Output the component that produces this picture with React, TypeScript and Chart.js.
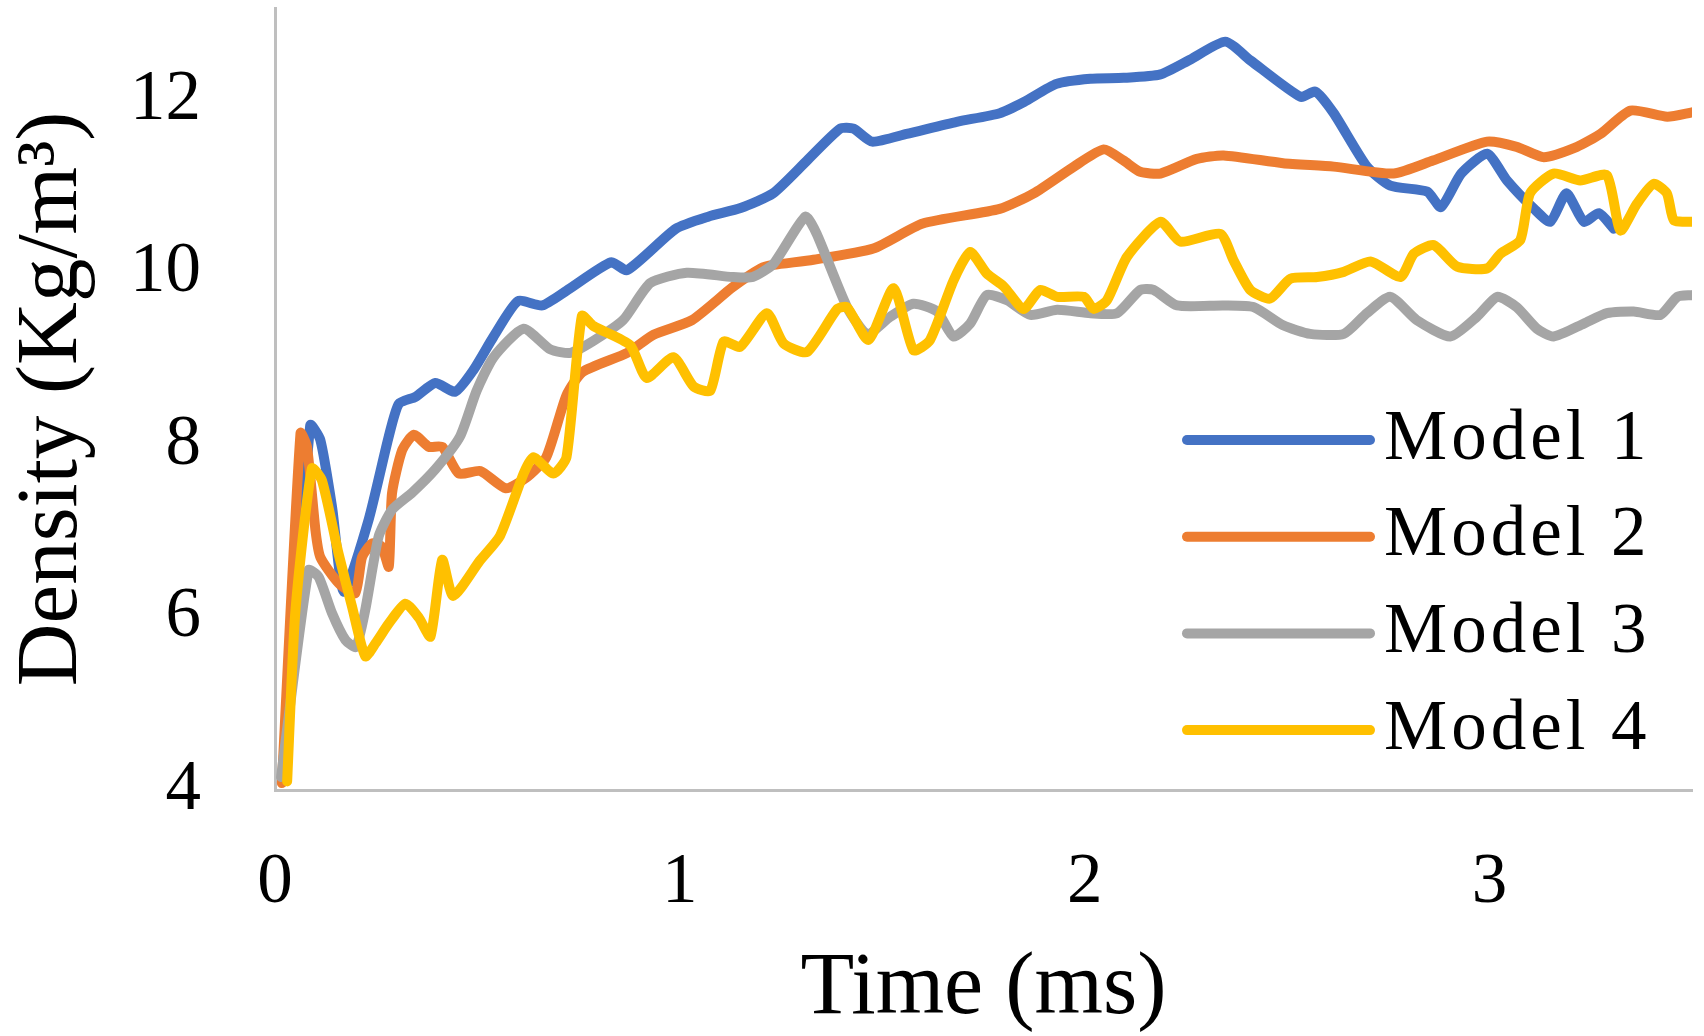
import {useEffect, useRef} from "react";
import {Chart, registerables} from "chart.js";

Chart.register(...registerables);

// values (time in ms, density in Kg/m3)
const model1Time = [0.022, 0.087, 0.112, 0.141, 0.17, 0.231, 0.281, 0.306, 0.347, 0.396, 0.445, 0.49, 0.54, 0.6, 0.66, 0.72, 0.83, 0.87, 0.99, 1.07, 1.15, 1.23, 1.314, 1.396, 1.429, 1.475, 1.56, 1.684, 1.79, 1.85, 1.93, 2.014, 2.096, 2.187, 2.26, 2.347, 2.41, 2.533, 2.57, 2.615, 2.697, 2.755, 2.846, 2.88, 2.93, 2.994, 3.043, 3.11, 3.15, 3.19, 3.233, 3.27, 3.307];
const model1Density = [4.1, 8.23, 8.06, 7.28, 6.3, 7.13, 8.1, 8.48, 8.56, 8.72, 8.62, 8.87, 9.26, 9.67, 9.62, 9.79, 10.12, 10.03, 10.51, 10.65, 10.75, 10.92, 11.3, 11.67, 11.67, 11.52, 11.61, 11.75, 11.85, 11.98, 12.19, 12.25, 12.26, 12.3, 12.47, 12.68, 12.46, 12.04, 12.1, 11.85, 11.23, 11.01, 10.94, 10.76, 11.15, 11.38, 11.07, 10.74, 10.59, 10.92, 10.59, 10.69, 10.51];

const model2Time = [0.017, 0.063, 0.079, 0.1, 0.112, 0.157, 0.198, 0.215, 0.24, 0.264, 0.281, 0.289, 0.314, 0.343, 0.38, 0.413, 0.454, 0.507, 0.57, 0.62, 0.67, 0.72, 0.76, 0.87, 0.935, 1.03, 1.13, 1.2, 1.231, 1.33, 1.478, 1.6, 1.79, 1.874, 1.973, 2.047, 2.096, 2.137, 2.187, 2.277, 2.343, 2.49, 2.615, 2.763, 2.86, 2.994, 3.067, 3.134, 3.216, 3.274, 3.348, 3.439, 3.5];
const model2Density = [4.08, 8.14, 7.98, 7.01, 6.7, 6.4, 6.28, 6.7, 6.86, 6.82, 6.59, 7.44, 7.94, 8.12, 7.98, 7.98, 7.67, 7.7, 7.5, 7.62, 7.86, 8.58, 8.85, 9.07, 9.28, 9.45, 9.83, 10.05, 10.09, 10.15, 10.28, 10.57, 10.74, 10.92, 11.23, 11.43, 11.3, 11.17, 11.15, 11.32, 11.36, 11.27, 11.23, 11.15, 11.3, 11.52, 11.46, 11.34, 11.46, 11.61, 11.88, 11.81, 11.86];

const model3Time = [0.015, 0.083, 0.108, 0.141, 0.174, 0.2, 0.223, 0.256, 0.289, 0.339, 0.396, 0.457, 0.498, 0.54, 0.614, 0.68, 0.73, 0.787, 0.86, 0.927, 1.017, 1.13, 1.18, 1.231, 1.31, 1.338, 1.413, 1.463, 1.52, 1.577, 1.635, 1.676, 1.717, 1.758, 1.808, 1.866, 1.932, 2.014, 2.08, 2.137, 2.17, 2.228, 2.343, 2.418, 2.49, 2.557, 2.64, 2.697, 2.755, 2.82, 2.903, 2.969, 3.019, 3.067, 3.117, 3.158, 3.233, 3.29, 3.356, 3.422, 3.464, 3.5];
const model3Density = [4.15, 6.55, 6.47, 6.05, 5.74, 5.66, 6.09, 6.94, 7.25, 7.45, 7.72, 8.1, 8.63, 9.02, 9.35, 9.11, 9.07, 9.21, 9.45, 9.88, 10.0, 9.95, 9.95, 10.1, 10.65, 10.45, 9.6, 9.29, 9.49, 9.64, 9.55, 9.26, 9.41, 9.74, 9.68, 9.51, 9.57, 9.53, 9.53, 9.8, 9.8, 9.62, 9.62, 9.6, 9.39, 9.29, 9.29, 9.53, 9.72, 9.45, 9.26, 9.49, 9.72, 9.6, 9.35, 9.26, 9.41, 9.53, 9.55, 9.51, 9.72, 9.74];

const model4Time = [0.03, 0.05, 0.091, 0.116, 0.157, 0.19, 0.223, 0.248, 0.281, 0.322, 0.355, 0.384, 0.413, 0.44, 0.506, 0.556, 0.614, 0.638, 0.688, 0.72, 0.758, 0.787, 0.877, 0.918, 0.984, 1.034, 1.075, 1.108, 1.149, 1.215, 1.256, 1.314, 1.389, 1.413, 1.466, 1.528, 1.577, 1.618, 1.676, 1.717, 1.758, 1.8, 1.849, 1.89, 1.932, 1.998, 2.022, 2.055, 2.104, 2.187, 2.236, 2.335, 2.368, 2.409, 2.458, 2.508, 2.574, 2.64, 2.706, 2.78, 2.813, 2.862, 2.92, 2.994, 3.027, 3.076, 3.1, 3.158, 3.224, 3.29, 3.323, 3.364, 3.405, 3.438, 3.455, 3.5];
const model4Density = [4.1, 6.05, 7.73, 7.59, 6.74, 6.13, 5.55, 5.7, 5.93, 6.16, 6.0, 5.78, 6.67, 6.25, 6.66, 6.95, 7.67, 7.86, 7.67, 7.86, 9.5, 9.38, 9.16, 8.78, 9.02, 8.68, 8.63, 9.2, 9.14, 9.53, 9.18, 9.08, 9.58, 9.6, 9.22, 9.82, 9.1, 9.22, 9.91, 10.24, 9.99, 9.84, 9.58, 9.8, 9.72, 9.72, 9.58, 9.68, 10.18, 10.59, 10.36, 10.45, 10.14, 9.8, 9.7, 9.93, 9.95, 10.01, 10.13, 9.95, 10.22, 10.32, 10.07, 10.05, 10.22, 10.38, 10.92, 11.15, 11.07, 11.13, 10.49, 10.8, 11.03, 10.92, 10.61, 10.59];

const seriesNames = ['Model 1', 'Model 2', 'Model 3', 'Model 4'];
const seriesColors = ['#4472C4', '#ED7D31', '#A5A5A5', '#FFC000'];
const xTicks = [0, 1, 2, 3];
const yTicks = [4, 6, 8, 10, 12];

const serif = "'Liberation Serif', 'Times New Roman', serif";

const toPoints = (t: number[], d: number[]) => t.map((x, i) => ({x, y: d[i]}));

// legend drawn inside the plot, lower right (like the Excel original)
const insideLegend = {
    id: 'insideLegend',
    afterDraw(chart: any) {
        const {ctx, chartArea} = chart;
        ctx.save();
        ctx.font = `71px ${serif}`;
        ctx.textBaseline = 'middle';
        ctx.textAlign = 'left';
        (ctx as any).letterSpacing = '4px';
        chart.data.datasets.forEach((ds: any, i: number) => {
            const y = chartArea.bottom - 350 + i * 96.7;
            ctx.strokeStyle = ds.borderColor;
            ctx.lineWidth = 10;
            ctx.lineCap = 'round';
            ctx.beginPath();
            ctx.moveTo(chartArea.right - 505, y);
            ctx.lineTo(chartArea.right - 322, y);
            ctx.stroke();
            ctx.fillStyle = '#000';
            ctx.fillText(ds.label, chartArea.right - 308, y);
        });
        ctx.restore();
    }
};

const DensityChart = () => {
    const canvasRef = useRef<HTMLCanvasElement>(null);

    useEffect(() => {
        const canvas = canvasRef.current;
        if (!canvas) return;

        const allTimes = [model1Time, model2Time, model3Time, model4Time];
        const allDensity = [model1Density, model2Density, model3Density, model4Density];

        const chart = new Chart(canvas, {
            type: 'line',
            data: {
                datasets: seriesNames.map((name, i) => ({
                    label: name,
                    data: toPoints(allTimes[i], allDensity[i]),
                    borderColor: seriesColors[i],
                    backgroundColor: seriesColors[i],
                    borderWidth: 10,
                    pointRadius: 0,
                    tension: 0.2,
                    borderCapStyle: 'round',
                    borderJoinStyle: 'round',
                    order: seriesNames.length - i,
                })),
            },
            options: {
                animation: false,
                responsive: true,
                maintainAspectRatio: false,
                layout: {padding: {top: 8, right: 12, left: 0, bottom: 0}},
                plugins: {
                    legend: {display: false},
                    tooltip: {enabled: false},
                },
                scales: {
                    x: {
                        type: 'linear',
                        min: 0,
                        max: 3.5,
                        afterBuildTicks: (s: any) => { s.ticks = xTicks.map(v => ({value: v})); },
                        afterFit: (s: any) => { s.height = 246; s.paddingLeft = 0; s.paddingRight = 0; },
                        grid: {display: false, drawTicks: false},
                        border: {display: true, color: '#bfbfbf', width: 3},
                        ticks: {
                            padding: 51,
                            color: '#000',
                            maxRotation: 0,
                            font: {family: serif, size: 71},
                        },
                        title: {
                            display: true,
                            text: 'Time (ms)',
                            color: '#000',
                            padding: {top: 0, bottom: 0},
                            font: {family: serif, size: 88, lineHeight: 1.05},
                        },
                    },
                    y: {
                        type: 'linear',
                        min: 4,
                        max: 13.07,
                        afterBuildTicks: (s: any) => { s.ticks = yTicks.map(v => ({value: v})); },
                        afterFit: (s: any) => { s.width = 275; s.paddingTop = 0; s.paddingBottom = 0; },
                        grid: {display: false, drawTicks: false},
                        border: {display: true, color: '#bfbfbf', width: 3},
                        ticks: {
                            padding: 74,
                            color: '#000',
                            font: {family: serif, size: 71},
                        },
                        title: {
                            display: true,
                            text: 'Density (Kg/m³)',
                            color: '#000',
                            padding: {top: 0, bottom: 0},
                            font: {family: serif, size: 87, lineHeight: 1.23},
                        },
                    },
                },
            },
            plugins: [insideLegend],
        } as any);

        return () => {
            chart.destroy();
        };
    }, []);

    return (
        <div style={{position: 'fixed', left: 0, top: 0, width: 1704, height: 1036, background: '#fff'}}>
            <canvas ref={canvasRef}></canvas>
        </div>
    );
};

export default function App() {
    return <DensityChart/>;
}
